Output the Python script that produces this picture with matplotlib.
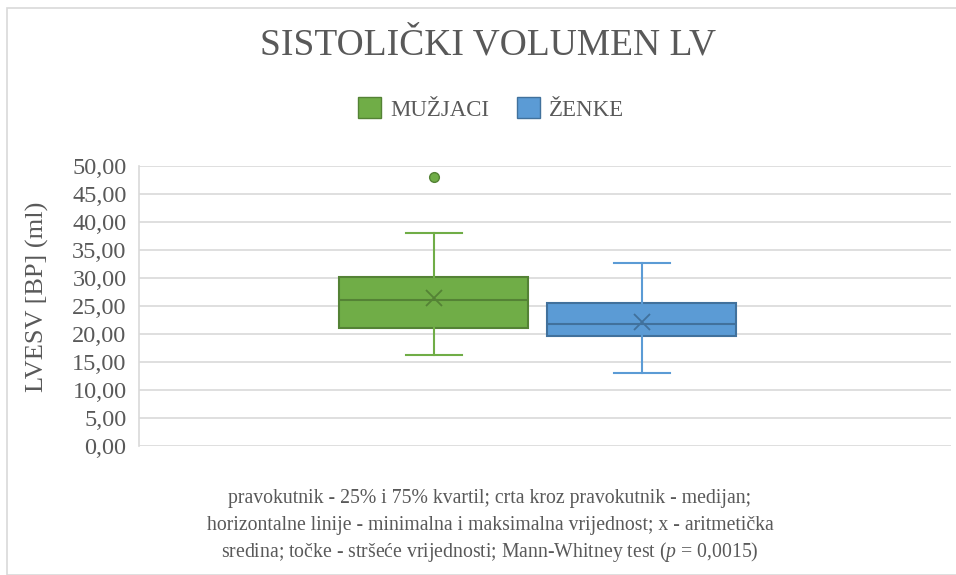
import matplotlib
matplotlib.use("Agg")
import matplotlib.pyplot as plt
from matplotlib.patches import Patch, Rectangle
from matplotlib.ticker import FuncFormatter

plt.rcParams['font.family'] = ['Liberation Serif', 'DejaVu Serif']
plt.rcParams['mathtext.fontset'] = 'custom'
plt.rcParams['mathtext.it'] = 'Liberation Serif:italic'
plt.rcParams['mathtext.rm'] = 'Liberation Serif'

# podaci (procijenjeno sa slike)
groups = ['MUŽJACI', 'ŽENKE']
mins = [16.2, 13.1]
q1 = [21.0, 19.7]
medians = [26.1, 21.7]
q3 = [30.2, 25.5]
maxs = [38.1, 32.6]
means = [26.5, 22.1]
outliers = [[48.1], []]

note_lines = ['pravokutnik - 25% i 75% kvartil; crta kroz pravokutnik - medijan;',
              'horizontalne linije - minimalna i maksimalna vrijednost; x - aritmetička',
              'sredina; točke - stršeće vrijednosti; Mann-Whitney test ($\\mathit{p}$ = 0,0015)']

face_colors = ['#70AD47', '#5B9BD5']
edge_colors = ['#548235', '#41719C']
text_col = '#595959'

fig = plt.figure(figsize=(9.56, 5.75), dpi=100)
ax = fig.add_axes([139/956, 1 - 446/575, 812/956, 280/575])

stats = []
for i in range(len(groups)):
    stats.append({'label': groups[i], 'whislo': mins[i], 'q1': q1[i], 'med': medians[i],
                  'q3': q3[i], 'whishi': maxs[i], 'mean': means[i], 'fliers': outliers[i]})

positions = [1, 2]
for i in range(len(groups)):
    ec = edge_colors[i]
    ax.bxp([stats[i]], positions=[positions[i]], widths=0.909, patch_artist=True,
           showmeans=True, meanline=False, capwidths=0.27,
           boxprops=dict(facecolor=face_colors[i], edgecolor=ec, linewidth=1.5),
           medianprops=dict(color=ec, linewidth=1.5),
           whiskerprops=dict(color=face_colors[i], linewidth=1.5),
           capprops=dict(color=face_colors[i], linewidth=1.5),
           meanprops=dict(marker='x', markeredgecolor=ec, markersize=12, markeredgewidth=1.3),
           flierprops=dict(marker='o', markerfacecolor=face_colors[i], markeredgecolor=ec,
                           markersize=7))

ax.set_xlim(-0.418, 3.486)
ax.set_ylim(0, 50)
ax.set_yticks(range(0, 51, 5))
ax.yaxis.set_major_formatter(FuncFormatter(lambda v, p: ('%.2f' % v).replace('.', ',')))
ax.set_xticks([])
ax.grid(axis='y', color='#D9D9D9', linewidth=1.2)
ax.set_axisbelow(True)
for s in ['top', 'right', 'bottom']:
    ax.spines[s].set_visible(False)
ax.spines['left'].set_color('#D9D9D9')
ax.spines['left'].set_linewidth(1.2)
ax.tick_params(axis='y', length=0, labelsize=17.5, labelcolor=text_col, pad=9)

fig.text(37/956, 1 - 297/575, 'LVESV [BP] (ml)', rotation=90, ha='center', va='center',
         fontsize=19, color=text_col)

fig.text(488/956, 1 - 45/575, 'SISTOLIČKI VOLUMEN LV', ha='center', va='center',
         fontsize=27, color=text_col)

handles = [Patch(facecolor=face_colors[i], edgecolor=edge_colors[i], label=groups[i])
           for i in range(len(groups))]
fig.legend(handles=handles, loc='center', bbox_to_anchor=(491/956, 1 - 109/575), ncol=2,
           frameon=False, fontsize=16.5, labelcolor=text_col, handlelength=1.0,
           handleheight=1.0, handletextpad=0.4, columnspacing=1.2)

# napomena ispod grafa, svaki red posebno
for k, line in enumerate(note_lines):
    fig.text(490/956, 1 - (503 + 27*k)/575, line, ha='center', va='baseline',
             fontsize=14.2, color=text_col)

fig.patches.append(Rectangle((7/956, 0), 1, 1 - 8/575, transform=fig.transFigure,
                             fill=False, edgecolor='#D9D9D9', linewidth=1.2))

fig.savefig('out.png', dpi=100)
